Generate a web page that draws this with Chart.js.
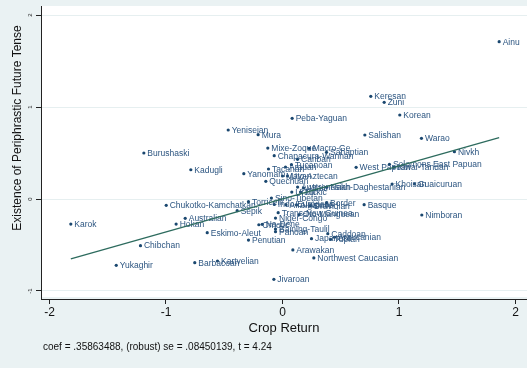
<!DOCTYPE html>
<html>
<head>
<meta charset="utf-8">
<script src="https://cdn.jsdelivr.net/npm/chart.js@4"></script>
<style>
  html, body { margin: 0; padding: 0; background: #eaf2f3; }
  canvas { display: block; }
</style>
</head>
<body>
<canvas id="avplot" width="527" height="368"></canvas>
<script>
// language families, partialled-out crop return vs. periphrastic future
const familyNames = [
    "Ainu", "Keresan", "Zuni", "Peba-Yaguan", "Korean", "Salishan", "Mura", "Yeniseian",
    "Warao", "Nivkh", "Mixe-Zoque", "Macro-Ge", "Sahaptian", "Chapacura-Wanhan", "Cariban",
    "Tucanoan", "Arauan", "Tacanan", "West Papuan", "Solomons East Papuan", "Kiwai-Tandan",
    "Khoisan", "Guaicuruan", "Burushaski", "Kadugli", "Yanomam", "Mayan", "Uto-Aztecan",
    "Quechuan", "Austronesian", "Altaic", "Nakh-Daghestanian", "Uralic", "Turkic",
    "Sino-Tibetan", "Torricelli", "Indo-European", "Afro-Asiatic", "Algic", "Dravidian",
    "Border", "Basque", "Chukotko-Kamchatkan", "Sepik", "Australian", "Hokan", "Karok",
    "Trans-New Guinea", "Oto-Manguean", "Niger-Congo", "Nimboran", "Omotic", "Na-Dene",
    "Baining-Taulil", "Panoan", "Eskimo-Aleut", "Penutian", "Caddoan", "Japanese", "Tupian",
    "Araucanian", "Chibchan", "Arawakan", "Northwest Caucasian", "Barbacoan", "Kartvelian",
    "Yukaghir", "Jivaroan"
]
const cropReturn = [
    1.86, 0.758, 0.873, 0.083, 1.007, 0.707, -0.209, -0.466,
    1.193, 1.476, -0.126, 0.229, 0.378, -0.071, 0.129,
    0.077, 0.026, -0.12, 0.632, 0.918, 0.956,
    0.941, 1.133, -1.19, -0.787, -0.332, 0.0, 0.043,
    -0.143, 0.13, 0.18, 0.38, 0.08, 0.155,
    -0.095, -0.292, -0.07, 0.03, 0.12, 0.24,
    0.378, 0.701, -0.998, -0.389, -0.835, -0.913, -1.817,
    -0.037, 0.143, -0.06, 1.196, -0.203, -0.174,
    -0.06, -0.06, -0.646, -0.292, 0.389, 0.249, 0.412,
    0.446, -1.219, 0.089, 0.269, -0.753, -0.558,
    -1.427, -0.074
]
const periphrasticFuture = [
    1.71, 1.116, 1.051, 0.877, 0.913, 0.696, 0.699, 0.75,
    0.66, 0.514, 0.554, 0.551, 0.507, 0.471, 0.431,
    0.373, 0.348, 0.326, 0.344, 0.377, 0.344,
    0.163, 0.163, 0.5, 0.318, 0.275, 0.25, 0.25,
    0.192, 0.13, 0.12, 0.127, 0.075, 0.075,
    0.01, -0.029, -0.06, -0.062, -0.065, -0.073,
    -0.04, -0.062, -0.069, -0.127, -0.21, -0.272, -0.272,
    -0.149, -0.17, -0.207, -0.174, -0.28, -0.275,
    -0.326, -0.355, -0.366, -0.446, -0.377, -0.431, -0.438,
    -0.416, -0.507, -0.554, -0.641, -0.692, -0.674,
    -0.721, -0.873
]
const xTicks = [-2, -1, 0, 1, 2]
const yTicks = [-1, 0, 1, 2]
const coef = 0.35863488
const robustSe = 0.08450139
const tStat = 4.24

const FONT = "'Liberation Sans', Arial, Helvetica, sans-serif"
const NAVY = "#1a476f"

const points = familyNames.map((name, i) => ({ x: cropReturn[i], y: periphrasticFuture[i] }))
const xLo = Math.min(...cropReturn)
const xHi = Math.max(...cropReturn)
const fitLine = [
    { x: xLo, y: coef * xLo },
    { x: xHi, y: coef * xHi },
]

const backdrop = {
    id: "backdrop",
    beforeDraw(chart) {
        const { ctx, chartArea: a } = chart
        ctx.save()
        ctx.fillStyle = "#eaf2f3"
        ctx.fillRect(0, 0, chart.width, chart.height)
        ctx.fillStyle = "#ffffff"
        ctx.fillRect(a.left, a.top, a.right - a.left, a.bottom - a.top - 2)
        ctx.restore()
    },
}

const pointLabels = {
    id: "pointLabels",
    afterDatasetDraw(chart, args) {
        if (args.index !== 1) return
        const { ctx } = chart
        ctx.save()
        ctx.font = `8.5px ${FONT}`
        ctx.fillStyle = "#2c5580"
        ctx.textAlign = "left"
        ctx.textBaseline = "middle"
        args.meta.data.forEach((pt, i) => {
            ctx.fillText(familyNames[i], pt.x + 3.5, pt.y + 0.5)
        })
        ctx.restore()
    },
}

const extraText = {
    id: "extraText",
    afterDraw(chart) {
        const { ctx } = chart
        const yScale = chart.scales.y
        ctx.save()
        ctx.fillStyle = "#222"
        // small vertical y tick labels
        ctx.font = `6px ${FONT}`
        ctx.textAlign = "center"
        ctx.textBaseline = "middle"
        yTicks.forEach(v => {
            ctx.save()
            ctx.translate(30, yScale.getPixelForValue(v))
            ctx.rotate(-Math.PI / 2)
            ctx.fillText(String(v), 0, 0)
            ctx.restore()
        })
        // y axis title
        ctx.fillStyle = "#111"
        ctx.font = `12px ${FONT}`
        ctx.save()
        ctx.translate(18, 128)
        ctx.rotate(-Math.PI / 2)
        ctx.fillText("Existence of Periphrastic Future Tense", 0, 0)
        ctx.restore()
        // regression note
        ctx.font = `10px ${FONT}`
        ctx.textAlign = "left"
        ctx.fillText(`coef = ${String(coef).replace(/^0/, "")}, (robust) se = ${String(robustSe).replace(/^0/, "")}, t = ${tStat}`, 43, 347)
        ctx.restore()
    },
}

new Chart(document.getElementById("avplot"), {
    data: {
        datasets: [
            {
                type: "line",
                data: fitLine,
                borderColor: "#2d6b5e",
                borderWidth: 1.3,
                pointRadius: 0,
                fill: false,
            },
            {
                type: "scatter",
                data: points,
                backgroundColor: NAVY,
                borderWidth: 0,
                pointRadius: 1.6,
            },
        ],
    },
    options: {
        responsive: false,
        animation: false,
        devicePixelRatio: 1,
        layout: { autoPadding: false, padding: { top: 6, right: 0, bottom: 30, left: 0 } },
        plugins: {
            legend: { display: false },
            tooltip: { enabled: false },
        },
        scales: {
            x: {
                type: "linear",
                min: -2.073,
                max: 2.099,
                afterBuildTicks: s => { s.ticks = xTicks.map(v => ({ value: v })) },
                afterFit: s => {
                    s.height = 39
                    s.paddingLeft = 0
                    s.paddingRight = 0
                },
                grid: { color: "rgba(0,0,0,0)", tickColor: "#222", tickLength: 5, drawOnChartArea: false },
                border: { color: "#222", width: 1 },
                ticks: {
                    color: "#111",
                    padding: 1,
                    maxRotation: 0,
                    autoSkip: false,
                    font: { size: 12, family: FONT },
                },
                title: {
                    display: true,
                    text: "Crop Return",
                    color: "#111",
                    font: { size: 13, family: FONT },
                    padding: { top: 0, bottom: 2 },
                },
            },
            y: {
                type: "linear",
                min: -1.087,
                max: 2.098,
                afterBuildTicks: s => { s.ticks = yTicks.map(v => ({ value: v })) },
                afterFit: s => {
                    s.width = 41
                    s.paddingTop = 0
                    s.paddingBottom = 0
                },
                grid: { color: "#e6eff0", tickColor: "#222", tickLength: 5 },
                border: { color: "#222", width: 1 },
                ticks: { display: false },
            },
        },
    },
    plugins: [backdrop, pointLabels, extraText],
})
</script>
</body>
</html>
